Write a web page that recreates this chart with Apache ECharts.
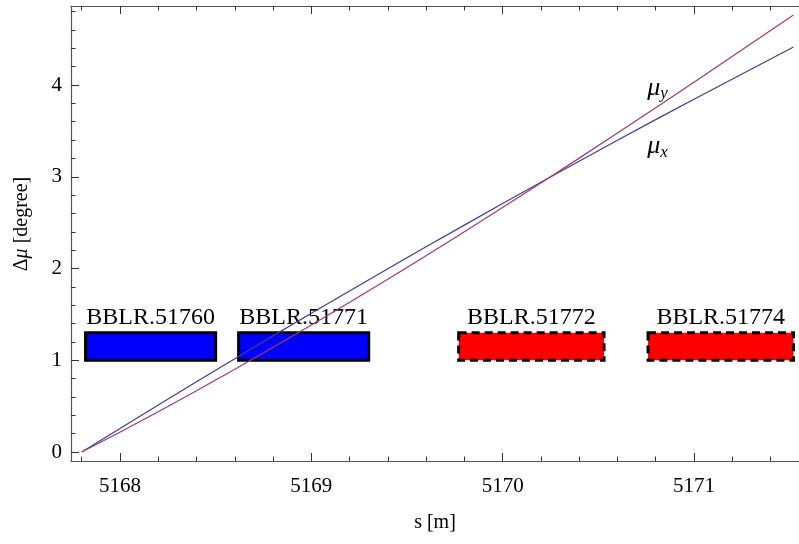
<!DOCTYPE html>
<html>
<head>
<meta charset="utf-8">
<script src="https://cdn.jsdelivr.net/npm/echarts@6/dist/echarts.min.js"></script>
<style>
html,body{margin:0;padding:0;background:#fff;}
#chart{width:799px;height:544px;}
</style>
</head>
<body>
<div id="chart"></div>
<script>
// ---- data ----
const sValues = [5167.8, 5168.2, 5168.6, 5169.0, 5169.4, 5169.8, 5170.2, 5170.6, 5171.0, 5171.52];
const muX = [0, 0.513, 1.017, 1.512, 1.997, 2.473, 2.940, 3.397, 3.845, 4.414];
const muY = [0, 0.439, 0.901, 1.384, 1.884, 2.401, 2.933, 3.476, 4.031, 4.763];

const boxNames = ['BBLR.51760', 'BBLR.51771', 'BBLR.51772', 'BBLR.51774'];
const boxStart = [5167.82, 5168.62, 5169.77, 5170.76];
const boxEnd = [5168.50, 5169.30, 5170.53, 5171.52];
const boxLow = [1, 1, 1, 1];
const boxHigh = [1.3, 1.3, 1.3, 1.3];
const boxBeam = ['b1', 'b1', 'b2', 'b2'];

const xMajorTicks = [5168, 5169, 5170, 5171];
const yMajorTicks = [0, 1, 2, 3, 4];

// ---- helpers ----
const X_MIN = 5167.744, X_MAX = 5171.549;
const Y_MIN = -0.098, Y_MAX = 4.861;
function minorList(a, b, step) {
  const out = [];
  const start = Math.ceil(a / step - 1e-9);
  const end = Math.floor(b / step + 1e-9);
  for (let i = start; i <= end; i++) {
    const v = +(i * step).toFixed(4);
    if (Math.abs(v - Math.round(v)) > 1e-6) out.push(v);
  }
  return out;
}
const xMinor = minorList(X_MIN, X_MAX, 0.2);
const yMinor = minorList(Y_MIN, Y_MAX, 0.2);

const FONT = 'Liberation Serif';
const lineC = '#555';

function xAxisDef(pos, ticks, len, showLabel, showLine) {
  return {
    type: 'value', position: pos, min: X_MIN, max: X_MAX,
    axisLine: {show: showLine, onZero: false, lineStyle: {color: lineC, width: 1.2}},
    axisTick: {show: true, inside: true, length: len, customValues: ticks, lineStyle: {color: '#333', width: 1}},
    axisLabel: {show: showLabel, customValues: ticks, color: '#000', fontFamily: FONT, fontSize: 21, margin: 15,
      formatter: v => String(v)},
    splitLine: {show: false}
  };
}
function yAxisDef(pos, ticks, len, showLabel, showLine) {
  return {
    type: 'value', position: pos, min: Y_MIN, max: Y_MAX,
    axisLine: {show: showLine, onZero: false, lineStyle: {color: lineC, width: 1.2}},
    axisTick: {show: true, inside: true, length: len, customValues: ticks, lineStyle: {color: '#333', width: 1}},
    axisLabel: {show: showLabel, customValues: ticks, color: '#000', fontFamily: FONT, fontSize: 21, margin: 9,
      formatter: v => String(v)},
    splitLine: {show: false}
  };
}

const xAxes = [
  xAxisDef('bottom', xMajorTicks, 8, true, true),
  xAxisDef('bottom', xMinor, 4.5, false, false),
  xAxisDef('top', xMajorTicks, 8, false, true),
  xAxisDef('top', xMinor, 4.5, false, false)
];
xAxes[0].name = 's [m]';
xAxes[0].nameLocation = 'middle';
xAxes[0].nameGap = 52;
xAxes[0].nameTextStyle = {color: '#000', fontFamily: FONT, fontSize: 20};

const yAxes = [
  yAxisDef('left', yMajorTicks, 8, true, true),
  yAxisDef('left', yMinor, 4.5, false, false)
];

const lineX = sValues.map((s, i) => [s, muX[i]]);
const lineY = sValues.map((s, i) => [s, muY[i]]);
const boxData = boxNames.map((n, i) => [boxStart[i], boxEnd[i], boxLow[i], boxHigh[i], boxBeam[i], n]);

const muRich = {
  m: {fontFamily: FONT, fontSize: 26, fontStyle: 'italic', color: '#000'},
  s: {fontFamily: FONT, fontSize: 17, fontStyle: 'italic', color: '#000', padding: [12, 0, 0, 0]}
};

const chart = echarts.init(document.getElementById('chart'), null, {renderer: 'canvas'});
chart.setOption({
  animation: false,
  backgroundColor: '#fff',
  grid: {left: 71, right: 0, top: 6, bottom: 83, containLabel: false},
  xAxis: xAxes,
  yAxis: yAxes,
  graphic: [{
    type: 'text', x: 22, y: 224, rotation: Math.PI / 2,
    style: {
      text: '{n|Δ}{i|μ}{n| [degree]}',
      align: 'center', verticalAlign: 'middle',
      rich: {
        n: {fontFamily: FONT, fontSize: 20, fill: '#000', color: '#000'},
        i: {fontFamily: FONT, fontSize: 20, fontStyle: 'italic', fill: '#000', color: '#000'}
      }
    }
  }],
  series: [
    {
      type: 'custom',
      xAxisIndex: 0, yAxisIndex: 0,
      clip: false,
      data: boxData,
      renderItem: function (params, api) {
        const p0 = api.coord([api.value(0), api.value(3)]);
        const p1 = api.coord([api.value(1), api.value(2)]);
        const beam = boxData[params.dataIndex][4];
        const name = boxData[params.dataIndex][5];
        const dashed = beam === 'b2';
        return {
          type: 'group',
          children: [
            {
              type: 'rect',
              shape: {x: p0[0], y: p0[1], width: p1[0] - p0[0], height: p1[1] - p0[1]},
              style: {
                fill: dashed ? '#ff0000' : '#0000ff',
                stroke: '#000', lineWidth: 3,
                lineDash: dashed ? [8, 5] : null
              }
            },
            {
              type: 'text',
              style: {
                x: (p0[0] + p1[0]) / 2, y: p0[1] - 3,
                text: name, fill: '#000',
                font: '24px "Liberation Serif"',
                align: 'center', verticalAlign: 'bottom'
              }
            }
          ]
        };
      },
      z: 1
    },
    {
      name: 'mux', type: 'line', data: lineX, smooth: true, showSymbol: false,
      lineStyle: {color: '#3d3d99', width: 1.2}, z: 3,
      markPoint: {
        symbol: 'circle', symbolSize: 0,
        data: [{coord: [5170.81, 3.33]}],
        label: {show: true, position: 'inside', formatter: '{m|μ}{s|x}', rich: muRich}
      }
    },
    {
      name: 'muy', type: 'line', data: lineY, smooth: true, showSymbol: false,
      lineStyle: {color: '#993d71', width: 1.2}, z: 3,
      markPoint: {
        symbol: 'circle', symbolSize: 0,
        data: [{coord: [5170.81, 3.97]}],
        label: {show: true, position: 'inside', formatter: '{m|μ}{s|y}', rich: muRich}
      }
    }
  ]
});
</script>
</body>
</html>
